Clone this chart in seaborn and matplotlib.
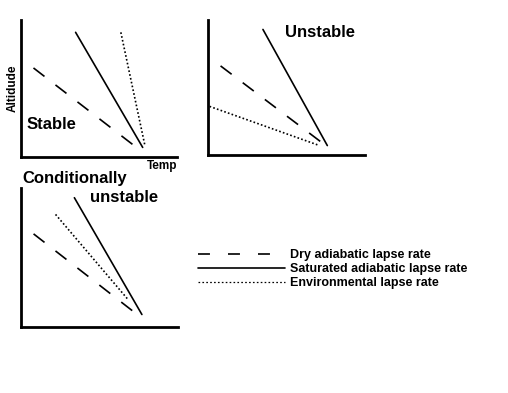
import matplotlib
matplotlib.use('Agg')
import matplotlib.pyplot as plt
from matplotlib.lines import Line2D
import seaborn as sns

# line end points (x = temperature, y = altitude, 0-10 scale)
stable_dry_x = [0.8, 7.4]
stable_dry_y = [6.5, 0.7]
stable_sat_x = [3.5, 7.8]
stable_sat_y = [9.1, 0.7]
stable_env_x = [6.4, 7.95]
stable_env_y = [9.1, 0.8]

unstable_dry_x = [0.8, 7.5]
unstable_dry_y = [6.6, 0.7]
unstable_sat_x = [3.5, 7.6]
unstable_sat_y = [9.3, 0.7]
unstable_env_x = [0.1, 7.1]
unstable_env_y = [3.6, 0.7]

cond_dry_x = [0.8, 7.4]
cond_dry_y = [6.7, 0.9]
cond_sat_x = [3.4, 7.7]
cond_sat_y = [9.3, 0.9]
cond_env_x = [2.2, 6.8]
cond_env_y = [8.1, 2.0]

legend_labels = ['Dry adiabatic lapse rate',
                 'Saturated adiabatic lapse rate',
                 'Environmental lapse rate']

sns.set_style('white')
plt.rcParams['font.family'] = ['Liberation Sans', 'DejaVu Sans']
plt.rcParams['lines.scale_dashes'] = False
plt.rcParams['text.color'] = 'black'

DRY = (0, (10, 10))
ENV = (0, (1.2, 1.6))
LW = 1.2

fig = plt.figure(figsize=(5.08, 3.93), dpi=100)
W, H = 508, 393

def panel(left, top, right, bottom):
    # pixel box -> figure fraction
    ax = fig.add_axes([left / W, 1 - bottom / H, (right - left) / W, (bottom - top) / H])
    ax.set_xlim(0, 10)
    ax.set_ylim(0, 10)
    ax.set_xticks([])
    ax.set_yticks([])
    for s in ['top', 'right']:
        ax.spines[s].set_visible(False)
    for s in ['left', 'bottom']:
        ax.spines[s].set_linewidth(2)
        ax.spines[s].set_color('black')
    ax.patch.set_alpha(0)
    return ax

def draw(ax, dx, dy, sx, sy, ex, ey):
    sns.lineplot(x=dx, y=dy, ax=ax, color='black', lw=LW, linestyle=DRY)
    sns.lineplot(x=sx, y=sy, ax=ax, color='black', lw=LW)
    sns.lineplot(x=ex, y=ey, ax=ax, color='black', lw=LW, linestyle=ENV)

def title(ax, x, y, s):
    ax.text(x, y, s, transform=ax.transAxes, fontsize=12, color='black',
            fontweight='bold', va='center', ha='left', clip_on=False)

ax1 = panel(21, 20, 177, 157)
draw(ax1, stable_dry_x, stable_dry_y, stable_sat_x, stable_sat_y, stable_env_x, stable_env_y)
title(ax1, 0.038, 0.24, 'Stable')
ax1.text(1.0, -0.068, 'Temp', transform=ax1.transAxes, fontsize=8.5,
         fontweight='bold', color='black', ha='right', va='center', clip_on=False)
ax1.text(-0.055, 0.5, 'Altidude', transform=ax1.transAxes, fontsize=8.5,
         fontweight='bold', color='black', ha='center', va='center',
         rotation=90, clip_on=False)

ax2 = panel(208, 20, 365, 155)
draw(ax2, unstable_dry_x, unstable_dry_y, unstable_sat_x, unstable_sat_y, unstable_env_x, unstable_env_y)
title(ax2, 0.49, 0.91, 'Unstable')

ax3 = panel(21, 188, 178, 327)
draw(ax3, cond_dry_x, cond_dry_y, cond_sat_x, cond_sat_y, cond_env_x, cond_env_y)
title(ax3, 0.006, 1.07, 'Conditionally')
title(ax3, 0.44, 0.935, 'unstable')

handles = [Line2D([], [], color='black', lw=LW, linestyle=(0, (8.6, 13))),
           Line2D([], [], color='black', lw=LW),
           Line2D([], [], color='black', lw=0.9, linestyle=(0, (1.2, 1.6)))]
leg = fig.legend(handles, legend_labels, loc='center left',
                 bbox_to_anchor=(198 / W, 1 - 269 / H), frameon=False,
                 borderaxespad=0, borderpad=0, handlelength=6.95,
                 handletextpad=0.4, labelspacing=0.15,
                 prop={'size': 9, 'weight': 'bold'})
for t in leg.get_texts():
    t.set_color('black')

fig.savefig('out.png', dpi=100)
